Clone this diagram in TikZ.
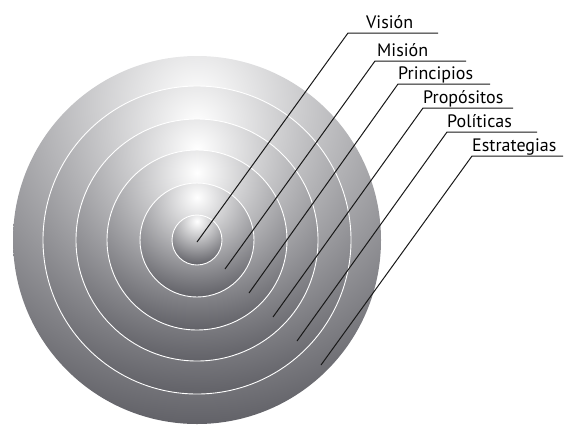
\documentclass[tikz,border=0pt]{standalone}
\usepackage{fontspec}
\setmainfont{PT Sans}
\usetikzlibrary{positioning}

\definecolor{ringdark}{RGB}{98,98,104}

\begin{document}
\begin{tikzpicture}[
    x=1pt, y=-1pt,
    ringline/.style={draw=white, line width=0.9pt},
    leader/.style={draw=black!90, line width=1pt},
    lbl/.style={anchor=base west, inner sep=0pt, font=\fontsize{18}{21}\selectfont}
  ]
    \useasboundingbox (0,0) rectangle (564,424);
    \coordinate (c) at (197,240);

    % stacked shaded discs, outer first
    \foreach \r in {184,154,121,90,57,25} {
      \begin{scope}
        \clip (c) circle (\r);
        \shade[inner color=white, outer color=ringdark] (197,{240-0.75*\r}) circle ({1.75*\r});
      \end{scope}
      \ifnum\r<184 \draw[ringline] (c) circle (\r); \fi
    }

    % leader line points
    \coordinate (p1) at (197,242);  \coordinate (k1) at (348,33);  \coordinate (e1) at (438,33);
    \coordinate (p2) at (225,269);  \coordinate (k2) at (375,61);  \coordinate (e2) at (466,61);
    \coordinate (p3) at (249,293);  \coordinate (k3) at (398,84);  \coordinate (e3) at (490,84);
    \coordinate (p4) at (273,317);  \coordinate (k4) at (423,108); \coordinate (e4) at (513,108);
    \coordinate (p5) at (297,341);  \coordinate (k5) at (447,132); \coordinate (e5) at (537,132);
    \coordinate (p6) at (321,365);  \coordinate (k6) at (472,156); \coordinate (e6) at (563,156);

    \node[lbl] (vision) at (366,28) {Visión};
    \node[lbl] (mision) at (377,56) {Misión};
    \node[lbl] (princ) at (398,79) {Principios};
    \node[lbl] (propos) at (423,103) {Propósitos};
    \node[lbl] (polit) at (447,127) {Políticas};
    \node[lbl] (estrat) at (472,151) {Estrategias};

    \draw[leader] (p1) -- (k1) -- (e1);
    \draw[leader] (p2) -- (k2) -- (e2);
    \draw[leader] (p3) -- (k3) -- (e3);
    \draw[leader] (p4) -- (k4) -- (e4);
    \draw[leader] (p5) -- (k5) -- (e5);
    \draw[leader] (p6) -- (k6) -- (e6);
  \end{tikzpicture}
\end{document}
